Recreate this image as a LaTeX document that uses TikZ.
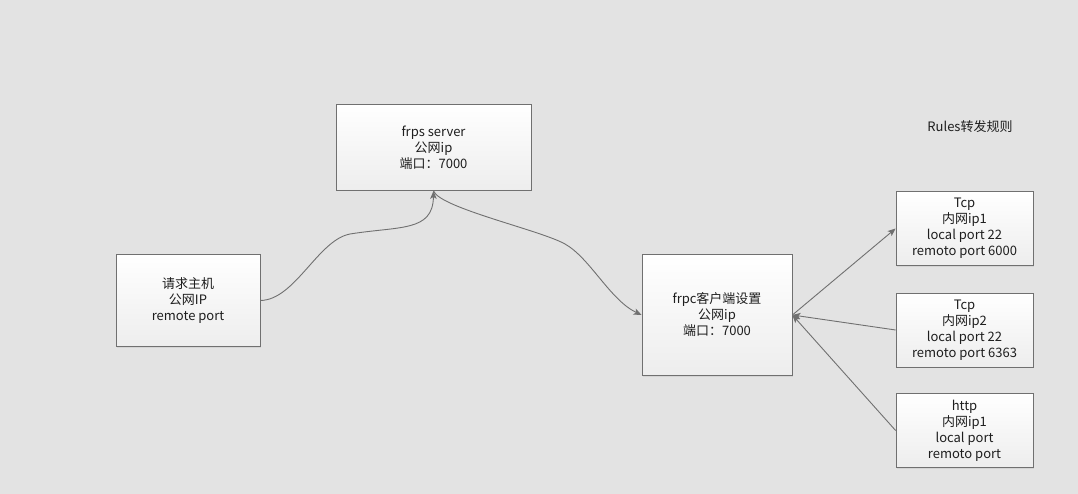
\documentclass[tikz,border=0pt]{standalone}
\usepackage{fontspec}
\setmainfont{Noto Sans CJK SC}
\usepackage{tikz}
\usetikzlibrary{positioning, calc, shapes, arrows, arrows.meta, shadows}

\definecolor{bggray}{RGB}{227,227,227}
\definecolor{linegray}{RGB}{112,112,112}
\definecolor{txtgray}{RGB}{30,30,30}

\tikzset{
  box/.style={rectangle, draw=linegray, line width=0.8pt, top color=white,
    bottom color=gray!14, align=center, text=txtgray,
    font=\fontsize{13}{16}\selectfont,
    drop shadow={opacity=0.15, shadow xshift=1pt, shadow yshift=-1pt}},
  link/.style={draw=linegray, line width=0.9pt}
}

\begin{document}
\begin{tikzpicture}[x=1pt,y=-1pt,>={Stealth[length=8pt,width=6.5pt,inset=2pt]},semithick]

  \useasboundingbox[fill=bggray] (0,0) rectangle (1078,494);

  \node[box, minimum width=195pt, minimum height=86pt] (frps) at (433.5,147.5)
    {frps server\\公网ip\\端口：7000};
  \node[box, minimum width=144pt, minimum height=92pt] (host) at (188,300.5)
    {请求主机\\公网IP\\remote port};
  \node[box, minimum width=150pt, minimum height=121pt] (frpc) at (717,315)
    {frpc客户端设置\\公网ip\\端口：7000};
  \node[box, minimum width=137pt, minimum height=74pt] (tcpa) at (964.5,228.5)
    {Tcp\\内网ip1\\local port 22\\remoto port 6000};
  \node[box, minimum width=137pt, minimum height=74pt] (tcpb) at (964.5,330)
    {Tcp\\内网ip2\\local port 22\\remoto port 6363};
  \node[box, minimum width=137pt, minimum height=74pt] (http) at (964.5,430.5)
    {http\\内网ip1\\local port\\remoto port};
  \node[text=txtgray, font=\fontsize{13}{16}\selectfont] (rules) at (970,127)
    {Rules转发规则};

  % curves
  \draw[link,->] (host.east) .. controls (295,300) and (318,240) .. (350,234)
    .. controls (400,226) and (433,232) .. (frps.south);
  \draw[link,->] (frps.south) .. controls (440,208) and (540,230) .. (565,244)
    .. controls (590,258) and (610,300) .. (frpc.west);

  % rules
  \draw[link,->] (frpc.east) -- (tcpa.west);
  \draw[link,->] (tcpb.west) -- (frpc.east);
  \draw[link,->] (http.west) -- (frpc.east);
\end{tikzpicture}
\end{document}
